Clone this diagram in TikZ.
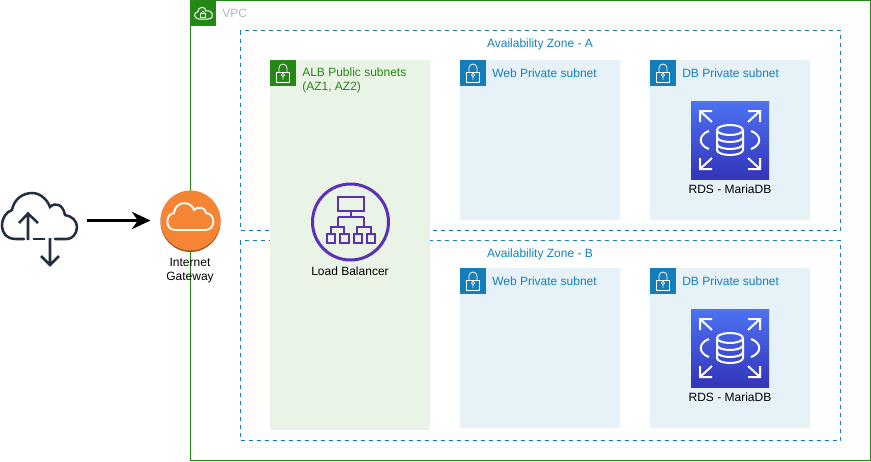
\documentclass[tikz,border=0pt]{standalone}
\usepackage{fontspec}
\setmainfont{Liberation Sans}
\usetikzlibrary{positioning,arrows.meta}
\definecolor{vpcgreen}{HTML}{248814}
\definecolor{vpcgrey}{HTML}{AAB7B8}
\definecolor{azblue}{HTML}{147EBA}
\definecolor{pubfill}{HTML}{E9F3E6}
\definecolor{privfill}{HTML}{E6F2F8}
\definecolor{inkdark}{HTML}{232F3E}
\definecolor{lbpurple}{HTML}{5A30B5}
\definecolor{rdstop}{HTML}{4D72F3}
\definecolor{rdsbottom}{HTML}{3334B9}
\definecolor{gworange}{HTML}{F58534}
\definecolor{gwshade}{HTML}{9D5025}
\tikzset{
  msarr/.style={-{Stealth[length=14pt,width=13pt]},line width=2.25pt,shorten <=7.5pt,shorten >=7.5pt},
  vpcbox/.style={draw=vpcgreen,line width=0.75pt,anchor=north west,outer sep=0pt,inner sep=0pt,
                 minimum width=510pt,minimum height=345pt},
  azbox/.style={draw=azblue,dashed,line width=0.75pt,anchor=north west,outer sep=0pt,inner sep=0pt,
                minimum width=450pt,minimum height=150pt},
  pubbox/.style={fill=pubfill,anchor=north west,outer sep=0pt,inner sep=0pt,
                 minimum width=120pt,minimum height=277.5pt},
  privbox/.style={fill=privfill,anchor=north west,outer sep=0pt,inner sep=0pt,
                  minimum width=120pt,minimum height=120pt},
  boxlabel/.style={font=\fontsize{9pt}{10.5pt}\selectfont,inner sep=0pt,align=left,anchor=west},
  iconlabel/.style={font=\fontsize{9pt}{10.5pt}\selectfont,inner sep=0pt,align=center,text=black},
  lockbadge/.pic={
    \fill[pic actions] (-13,-13) rectangle (13,13);
    \draw[white,line width=0.6pt] (-6.5,-1) rectangle (6.5,9);
    \draw[white,line width=0.6pt] (-4,-1) -- (-4,-5) arc[start angle=180,end angle=360,radius=4] -- (4,-1);
    \draw[white,line width=0.5pt] (0,2) circle[radius=1.6] (0,3.6) -- (0,6.5);
  },
  vpcbadge/.pic={
    \fill[vpcgreen] (-13,-13) rectangle (13,13);
    \draw[white,line width=0.75pt] (-4,6) .. controls (-9,6) and (-10,-1) .. (-5.5,-1)
      .. controls (-5,-7) and (3,-7) .. (3,-2) .. controls (7,-3) and (10,0) .. (9,2)
      .. controls (10,5) and (7,6) .. (5,6) -- cycle;
    \draw[white,line width=0.5pt] (-2.5,0.5) rectangle (2.5,4.5);
    \draw[white,line width=0.5pt] (-1.5,0.5) -- (-1.5,-0.5) arc[start angle=180,end angle=360,radius=1.5] -- (1.5,0.5);
  },
  rdsicon/.pic={
    \shade[top color=rdstop,bottom color=rdsbottom,draw=none] (-39,-39) rectangle (39,39);
    \draw[white,line width=1.5pt]
      (-30,-18) -- (-30,-29) -- (-18,-29) (-30,-29) -- (-18,-18)
      (30,-18) -- (30,-29) -- (18,-29) (30,-29) -- (18,-18)
      (-30,18) -- (-30,29) -- (-18,29) (-30,29) -- (-18,18)
      (30,18) -- (30,29) -- (18,29) (30,29) -- (18,18);
    \draw[white,line width=1.5pt]
      (-21,-9) .. controls (-32,-5) and (-32,5) .. (-21,9)
      (21,-9) .. controls (32,-5) and (32,5) .. (21,9);
    \draw[white,line width=1.5pt]
      (-13,-10) -- (-13,10) arc[start angle=180,end angle=0,x radius=13,y radius=5] -- (13,-10)
      (0,-10) ellipse[x radius=13,y radius=5]
      (-13,-3) arc[start angle=180,end angle=0,x radius=13,y radius=5]
      (-13,4) arc[start angle=180,end angle=0,x radius=13,y radius=5];
  },
  lbicon/.pic={
    \draw[lbpurple,line width=2.25pt] (0,0) circle[radius=38];
    \draw[lbpurple,line width=1.5pt]
      (-13,-25) rectangle (13,-11)
      (0,-11) -- (0,-5) (-13,-5) -- (13,-5)
      (-13,-5) -- (-13,5) (13,-5) -- (13,5)
      (-20,12) -- (-20,5) -- (-6.5,5) -- (-6.5,12)
      (6.5,12) -- (6.5,5) -- (20,5) -- (20,12)
      (-23.5,12) rectangle (-15.5,21)
      (-11,12) rectangle (-2,21)
      (3,12) rectangle (11,21)
      (16,12) rectangle (24,21);
  }
}

\begin{document}
\begin{tikzpicture}[x=0.75pt,y=-0.75pt]
\useasboundingbox (0,0) rectangle (871,461);
% containers
\node[vpcbox] (vpc) at (190.5,0.5) {};
\node[azbox] (aza) at (240.5,30.5) {};
\node[azbox] (azb) at (240.5,240.5) {};
\node[pubbox] (alb) at (270,60) {};
\node[privbox] (weba) at (460,60) {};
\node[privbox, right=22.5pt of weba] (dba) {};
\node[privbox] (webb) at (460,268) {};
\node[privbox, right=22.5pt of webb] (dbb) {};

% badges
\pic at (203,13) {vpcbadge};
\pic[fill=vpcgreen] at (283,73) {lockbadge};
\pic[fill=azblue] at (473,73) {lockbadge};
\pic[fill=azblue] at (663,73) {lockbadge};
\pic[fill=azblue] at (473,281) {lockbadge};
\pic[fill=azblue] at (663,281) {lockbadge};

% labels of the groups
\node[boxlabel, text=vpcgrey] (vpctext) at (222,13.5) {VPC};
\node[boxlabel, text=azblue, anchor=center] (azatext) at (540,44.5) {Availability Zone - A};
\node[boxlabel, text=azblue, anchor=center] (azbtext) at (540,254.5) {Availability Zone - B};
\node[boxlabel, text=vpcgreen, anchor=north west] (albtext) at (302,67.5) {ALB Public subnets\\(AZ1, AZ2)};
\node[boxlabel, text=azblue] (webatext) at (492,73.5) {Web Private subnet};
\node[boxlabel, text=azblue] (dbatext) at (682,73.5) {DB Private subnet};
\node[boxlabel, text=azblue] (webbtext) at (492,281.5) {Web Private subnet};
\node[boxlabel, text=azblue] (dbbtext) at (682,281.5) {DB Private subnet};

% icons
\pic at (730,140) {rdsicon};
\pic at (730,348) {rdsicon};
\pic at (350.5,222) {lbicon};
\node[iconlabel] (rdsa) at (730,189) {RDS - MariaDB};
\node[iconlabel] (rdsb) at (730,397) {RDS - MariaDB};
\node[iconlabel] (lb) at (350,271) {Load Balancer};

% internet gateway
\fill[gwshade] (190.5,222) circle[radius=30];
\node[circle,fill=gworange,minimum size=45pt,inner sep=0pt,outer sep=0pt] (gw) at (190.5,220.5) {};
\draw[white,line width=1.4pt] (180,230) -- (205,230) .. controls (216,230) and (216,214) .. (206,213)
  .. controls (206,207) and (197,206) .. (194,210) .. controls (191,200) and (175,201) .. (174,213)
  .. controls (165,214) and (165,230) .. (175,230) -- cycle;
\node[iconlabel] (gwtext) at (190,271) {Internet\\Gateway};

% cloud
\node[minimum width=57pt,minimum height=30pt,inner sep=0pt,outer sep=0pt] (cloud) at (39,220.5) {};
\draw[inkdark,line width=1.9pt,line cap=round] (24,239) -- (16,239) .. controls (6,239) and (2,232) .. (2,226)
  .. controls (2,218) and (6,212) .. (12,210) .. controls (14,199) and (23,193) .. (32,193)
  .. controls (40,193) and (47,199) .. (50,207) .. controls (55,202) and (63,204) .. (65,215)
  .. controls (72,216) and (77,221) .. (77,227) .. controls (77,234) and (72,239) .. (67,239) -- (55,239);
\draw[inkdark,line width=1.9pt] (33,239) -- (45,239);
\draw[inkdark,line width=1.9pt] (28,240) -- (28,214) (19,223) -- (28,213.5) -- (38,223);
\draw[inkdark,line width=1.9pt] (50,238) -- (50,264) (41,256) -- (50,265) -- (59,256);

\draw[msarr] (cloud.east) -- (gw.west);
\end{tikzpicture}
\end{document}
